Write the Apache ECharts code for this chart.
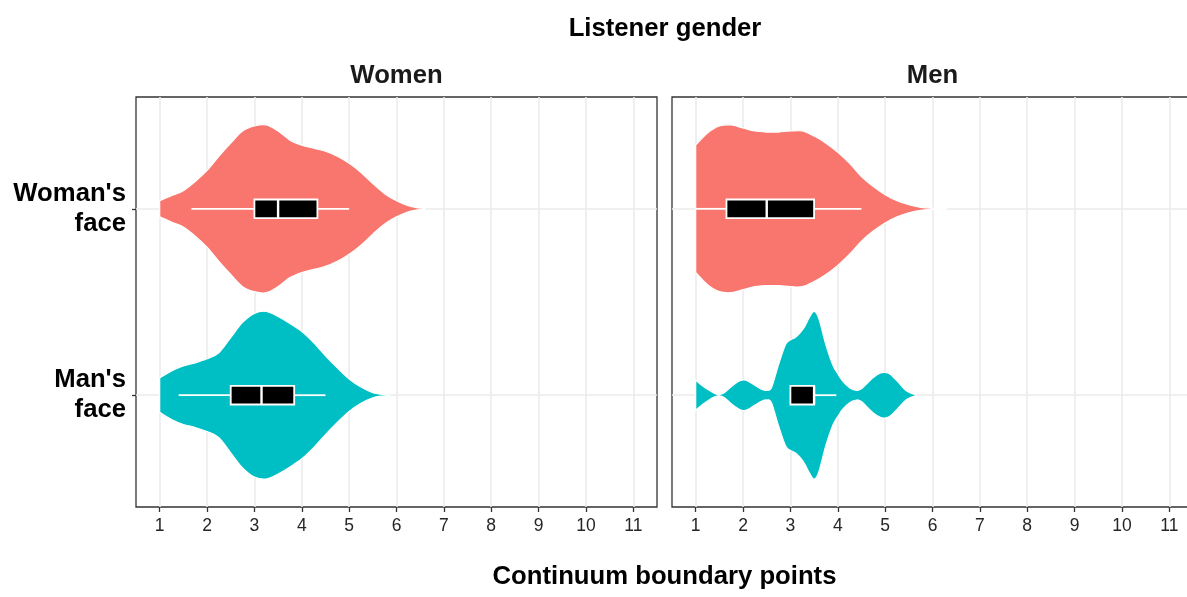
<!DOCTYPE html>
<html>
<head>
<meta charset="utf-8">
<script src="https://cdn.jsdelivr.net/npm/echarts@6/dist/echarts.min.js"></script>
<style>
html,body{margin:0;padding:0;background:#fff;}
#chart{width:1187px;height:597px;}
</style>
</head>
<body>
<div id="chart"></div>
<script>
// ---- data ----
const panelNames = ['Women', 'Men'];
const faceLabels = ["Woman's\nface", "Man's\nface"];
const faceColors = ['#F8766D', '#00BFC4'];
const xTicks = [1, 2, 3, 4, 5, 6, 7, 8, 9, 10, 11];

// Women listeners, Woman's face: density profile (relative half-widths)
const xWW = [1, 1.25, 1.5, 1.75, 2, 2.25, 2.5, 2.75, 3, 3.25, 3.5, 3.75, 4, 4.25, 4.5, 4.75, 5, 5.25, 5.5, 5.75, 6, 6.25, 6.45, 6.6];
const dWW = [8, 13, 18, 27, 38, 52, 65, 77, 82, 83, 77, 68, 63, 60, 57, 52, 45, 36, 25, 15, 8, 3, 1, 0.3];
// Women listeners, Man's face
const xWM = [1, 1.25, 1.5, 1.75, 2, 2.25, 2.5, 2.75, 3, 3.25, 3.5, 3.75, 4, 4.25, 4.5, 4.75, 5, 5.25, 5.5, 5.7, 5.85];
const dWM = [17, 24, 29, 32, 36, 42, 57, 72, 81, 83, 78, 71, 63, 52, 39, 27, 16, 8, 2.5, 0.8, 0.3];
// Men listeners, Woman's face
const xMW = [1, 1.25, 1.5, 1.75, 2, 2.25, 2.5, 2.75, 3, 3.25, 3.5, 3.75, 4, 4.25, 4.5, 4.75, 5, 5.25, 5.5, 5.75, 6, 6.3];
const dMW = [63, 75, 82, 83, 80, 77, 76, 76, 77, 77, 72, 65, 56, 45, 32, 22, 14, 8, 4, 1.5, 0.6, 0.3];
// Men listeners, Man's face
const xMM = [1, 1.1, 1.25, 1.4, 1.5, 1.6, 1.75, 1.9, 2, 2.1, 2.25, 2.4, 2.5, 2.6, 2.75, 2.9, 3.0, 3.1, 3.2, 3.3, 3.4, 3.5, 3.6, 3.75, 3.9, 4.0, 4.1, 4.25, 4.4, 4.5, 4.6, 4.75, 4.9, 5.0, 5.1, 5.25, 5.4, 5.5, 5.65];
const dMM = [14.7, 10.7, 5.7, 1.7, 0.6, 2.3, 8.3, 13.3, 15, 14, 9.7, 5.7, 4.7, 7.3, 30, 49.7, 54, 56.3, 60.7, 67, 76, 82, 75, 49, 29, 21, 14, 7.3, 4.7, 6.3, 10.7, 17.3, 21.7, 22.3, 20.7, 14, 6.3, 3, 0.3];

// box stats: [lower whisker, Q1, median, Q3, upper whisker]
const boxWW = [1.67, 3.0, 3.5, 4.33, 5.0];
const boxWM = [1.4, 2.5, 3.15, 3.84, 4.5];
const boxMW = [1.0, 1.65, 2.5, 3.5, 4.5];
const boxMM = [3.0, 3.0, 3.5, 3.5, 3.97];

// ---- assembly ----
const violins = [
  [{x: xWW, d: dWW, box: boxWW}, {x: xWM, d: dWM, box: boxWM}],
  [{x: xMW, d: dMW, box: boxMW}, {x: xMM, d: dMM, box: boxMM}]
];

const FONT = '"Liberation Sans", Arial, Helvetica, sans-serif';
const HALF = 0.45, BOXH = 0.05;

// smooth curve through screen points (Catmull-Rom -> cubic bezier)
function curve(pts, start) {
  let s = start ? 'M' + pts[0][0] + ' ' + pts[0][1] : 'L' + pts[0][0] + ' ' + pts[0][1];
  const n = pts.length;
  for (let i = 0; i < n - 1; i++) {
    const p0 = pts[Math.max(i - 1, 0)], p1 = pts[i], p2 = pts[i + 1], p3 = pts[Math.min(i + 2, n - 1)];
    const c1x = p1[0] + (p2[0] - p0[0]) / 6, c1y = p1[1] + (p2[1] - p0[1]) / 6;
    const c2x = p2[0] - (p3[0] - p1[0]) / 6, c2y = p2[1] - (p3[1] - p1[1]) / 6;
    s += ' C' + c1x + ' ' + c1y + ' ' + c2x + ' ' + c2y + ' ' + p2[0] + ' ' + p2[1];
  }
  return s;
}

function makeRender(p) {
  return function (params, api) {
    const f = api.value(0);
    const v = violins[p][f];
    const yc = f + 1;
    const maxD = Math.max.apply(null, v.d);
    const top = [], bot = [];
    for (let k = 0; k < v.x.length; k++) {
      const hw = v.d[k] / maxD * HALF;
      top.push(api.coord([v.x[k], yc - hw]));
      bot.push(api.coord([v.x[k], yc + hw]));
    }
    const pathData = curve(top, true) + ' ' + curve(bot.slice().reverse(), false) + ' Z';
    const b = v.box;
    const p1 = api.coord([b[1], yc - BOXH]);
    const p2 = api.coord([b[3], yc + BOXH]);
    const cy = api.coord([b[0], yc])[1];
    const children = [
      {type: 'path', shape: {pathData: pathData}, style: {fill: faceColors[f], stroke: '#fff', lineWidth: 1.2}},
      {type: 'line', shape: {x1: api.coord([b[0], yc])[0], y1: cy, x2: p1[0], y2: cy}, style: {stroke: '#fff', lineWidth: 1.8}},
      {type: 'line', shape: {x1: p2[0], y1: cy, x2: api.coord([b[4], yc])[0], y2: cy}, style: {stroke: '#fff', lineWidth: 1.8}},
      {type: 'rect', shape: {x: Math.min(p1[0], p2[0]), y: Math.min(p1[1], p2[1]), width: Math.abs(p2[0] - p1[0]), height: Math.abs(p2[1] - p1[1])},
        style: {fill: '#000', stroke: '#fff', lineWidth: 1.8}},
      {type: 'line', shape: {x1: api.coord([b[2], yc])[0], y1: p1[1], x2: api.coord([b[2], yc])[0], y2: p2[1]}, style: {stroke: '#fff', lineWidth: 2.4}}
    ];
    return {type: 'group', children: children};
  };
}

const grids = [
  {left: 136, top: 97, width: 521, height: 410},
  {left: 672, top: 97, width: 521, height: 410}
];

const option = {
  backgroundColor: '#fff',
  animation: false,
  grid: grids.map(g => Object.assign({show: true, borderColor: '#333', borderWidth: 1.3, backgroundColor: 'transparent',
    containLabel: false, outerBoundsMode: 'none'}, g)),
  xAxis: [0, 1].map(i => ({
    type: 'value', gridIndex: i, min: 0.5, max: 11.5,
    axisLine: {show: false},
    axisTick: {show: true, customValues: xTicks, length: 5, lineStyle: {color: '#333', width: 1.3}},
    axisLabel: {show: true, customValues: xTicks, margin: 10, color: '#262626', fontSize: 17.5, fontFamily: FONT},
    splitLine: {show: true, lineStyle: {color: '#EBEBEB', width: 1.6}}
  })),
  yAxis: [0, 1].map(i => ({
    type: 'value', gridIndex: i, min: 0.4, max: 2.6, inverse: true,
    axisLine: {show: false},
    axisTick: {show: i === 0, customValues: [1, 2], length: 4, lineStyle: {color: '#333', width: 1.3}},
    axisLabel: {show: i === 0, customValues: [1, 2], margin: 10, align: 'right',
      formatter: val => faceLabels[Math.round(val) - 1],
      color: '#000', fontSize: 25.7, fontWeight: 'bold', fontFamily: FONT, lineHeight: 30},
    splitLine: {show: true, lineStyle: {color: '#EBEBEB', width: 1.6}}
  })),
  series: [0, 1].map(p => ({
    type: 'custom', xAxisIndex: p, yAxisIndex: p,
    renderItem: makeRender(p),
    data: [[0], [1]],
    encode: {x: -1, y: -1},
    clip: false
  })),
  graphic: [
    {type: 'text', x: 665, y: 28.5, style: {text: 'Listener gender', font: 'bold 25.7px ' + FONT, fill: '#000', align: 'center', verticalAlign: 'middle'}},
    {type: 'text', x: 396.5, y: 75.5, style: {text: panelNames[0], font: 'bold 25.7px ' + FONT, fill: '#1a1a1a', align: 'center', verticalAlign: 'middle'}},
    {type: 'text', x: 932.5, y: 75.5, style: {text: panelNames[1], font: 'bold 25.7px ' + FONT, fill: '#1a1a1a', align: 'center', verticalAlign: 'middle'}},
    {type: 'text', x: 664.5, y: 576.5, style: {text: 'Continuum boundary points', font: 'bold 25.7px ' + FONT, fill: '#000', align: 'center', verticalAlign: 'middle'}}
  ]
};

const chart = echarts.init(document.getElementById('chart'), null, {renderer: 'canvas'});
chart.setOption(option);
</script>
</body>
</html>
